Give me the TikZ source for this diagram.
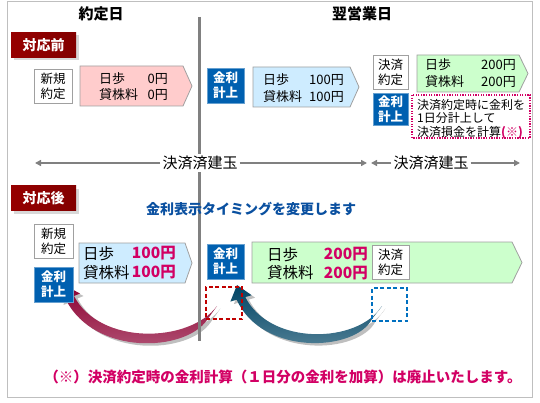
\documentclass[tikz,border=0pt]{standalone}
\usepackage{fontspec}
\setmainfont{Noto Sans CJK JP}
\usetikzlibrary{arrows.meta,shadows}
\definecolor{kinri}{RGB}{0,96,176}
\definecolor{mag}{RGB}{210,0,100}
\definecolor{pinkf}{RGB}{255,204,204}
\definecolor{bluef}{RGB}{206,236,255}
\definecolor{greenf}{RGB}{204,255,204}
\definecolor{edge}{RGB}{160,160,160}
\definecolor{titleblue}{RGB}{10,80,160}
\definecolor{dred}{RGB}{192,0,0}
\definecolor{dblue}{RGB}{0,112,192}
\definecolor{arrred}{RGB}{140,0,50}
\definecolor{arrblue}{RGB}{0,68,100}
\definecolor{lgray}{RGB}{128,128,128}
\begin{document}
\begin{tikzpicture}[x=1pt,y=-1pt,
  sbox/.style={draw=edge, fill=white, line width=0.8pt, minimum width=#1, minimum height=34pt, inner sep=0pt, align=center, font=\fontsize{12.5}{15}\selectfont},
  kbox/.style={fill=kinri, draw=kinri!60, line width=0.6pt, text=white, minimum width=37pt, minimum height=#1, inner sep=0pt, align=center, font=\bfseries\fontsize{12.5}{15}\selectfont},
  pent/.style={draw=edge, line width=0.8pt},
  lbl/.style={anchor=west, inner sep=0pt, font=\fontsize{13}{15}\selectfont},
  val/.style={anchor=east, inner sep=0pt, font=\fontsize{13}{15}\selectfont},
  lblb/.style={anchor=west, inner sep=0pt, font=\fontsize{15.5}{18}\selectfont},
  valb/.style={anchor=east, inner sep=0pt, text=mag, font=\bfseries\fontsize{15.5}{18}\selectfont},
  tag/.style={minimum width=65pt, minimum height=25pt, inner sep=0pt, text=white,
    font=\bfseries\fontsize{14}{16}\selectfont,
    left color={rgb,255:red,150;green,0;blue,0}, middle color={rgb,255:red,200;green,0;blue,0}, right color={rgb,255:red,130;green,0;blue,0},
    drop shadow={shadow xshift=3pt, shadow yshift=-3pt, fill=gray!60}},
  hline/.style={draw=lgray, line width=1.5pt, -{Triangle[length=6pt,width=6pt]}},
  kess/.style={fill=white, inner sep=2pt, font=\fontsize{15}{18}\selectfont},
  redarr/.style={insert path={(207,320) .. controls (185,352) and (95,356) .. (66,300) -- (60,302.5) -- (64,285) -- (80,293.5) -- (74,296) .. controls (100,346) and (190,343) .. (217,306) -- cycle}},
  bluearr/.style={insert path={(372,319) .. controls (355,352) and (262,356) .. (236.7,299.7) -- (230.4,301.6) -- (237,285) -- (251.6,295.2) -- (245.3,297.1) .. controls (270,346) and (358,344) .. (382,306) -- cycle}}
]
\useasboundingbox (0,0) rectangle (540,403);
\draw[gray!50, line width=1pt] (7,1.5) rectangle (532,397);
% titles
\node[font=\bfseries\fontsize{15}{18}\selectfont] (t1) at (101,14) {約定日};
\node[font=\bfseries\fontsize{15}{18}\selectfont] (t2) at (362,14) {翌営業日};
% curved arrows (under the divider)
\fill[gray!50, shift={(3.5,2.5)}, redarr];
\shade[top color=arrred, bottom color=arrred!65!white, redarr];
\fill[gray!50, shift={(3.5,2.5)}, bluearr];
\shade[top color=arrblue, bottom color=arrblue!65!white, bluearr];
% vertical divider
\coordinate (vtop) at (199,17);
\coordinate (vbot) at (199,341);
\draw[lgray, line width=3pt] (vtop) -- (vbot);
% before
\node[tag] (mae) at (43.5,45) {対応前};
\node[sbox=38pt] (shinki1) at (53,86.5) {新規\\約定};
\draw[pent, fill=pinkf] (80,66) -- (183,66) -- (192,86) -- (183,106) -- (80,106) -- cycle;
\node[lbl] (p1) at (99,79) {日歩};
\node[lbl] (p2) at (99,95) {貸株料};
\node[val] (p3) at (168,79) {0円};
\node[val] (p4) at (168,95) {0円};
\node[kbox=35pt] (kin1) at (225.5,85.5) {金利\\計上};
\draw[pent, fill=bluef] (253,67) -- (350,67) -- (359,87) -- (350,107) -- (253,107) -- cycle;
\node[lbl] (b1) at (263,80) {日歩};
\node[lbl] (b2) at (263,97) {貸株料};
\node[val] (b3) at (344,80) {100円};
\node[val] (b4) at (344,97) {100円};
\node[sbox=35pt] (kessai1) at (390.5,72) {決済\\約定};
\draw[pent, fill=greenf] (417,55) -- (519,55) -- (528,73.5) -- (519,92) -- (417,92) -- cycle;
\node[lbl] (g1) at (425,65) {日歩};
\node[lbl] (g2) at (425,82) {貸株料};
\node[val] (g3) at (516,65) {200円};
\node[val] (g4) at (516,82) {200円};
\node[kbox=32pt, minimum width=35pt] (kin2) at (390.5,109) {金利\\計上};
\draw[mag, line width=1.3pt, dash pattern=on 1.3pt off 1.3pt] (412,95) rectangle (530,138);
\node[anchor=north west, inner sep=0pt, align=left, font=\fontsize{12}{13.5}\selectfont] (note) at (417,99)
  {決済約定時に金利を\\1日分計上して\\決済損金を計算{\bfseries\color{mag}(※)}};
% settled positions
\node[kess] (k1) at (200,163) {決済済建玉};
\node[kess] (k2) at (431,163) {決済済建玉};
\coordinate (l1) at (35,163);
\coordinate (r1) at (367,163);
\coordinate (l2) at (371,163);
\coordinate (r2) at (520,163);
\draw[hline] (k1) -- (l1);
\draw[hline] (k1) -- (r1);
\draw[hline] (k2) -- (l2);
\draw[hline] (k2) -- (r2);
% after
\node[tag] (ato) at (43.5,198.5) {対応後};
\node[font=\bfseries\fontsize{14}{16}\selectfont, text=titleblue] (msg) at (251,209) {金利表示タイミングを変更します};
\node[sbox=39pt] (shinki2) at (53.5,241) {新規\\約定};
\node[kbox=35pt, minimum width=39pt] (kin3) at (53.5,284.5) {金利\\計上};
\draw[pent, fill=bluef] (79,243) -- (185,243) -- (192,263) -- (185,283) -- (79,283) -- cycle;
\node[lblb] (c1) at (83,253.5) {日歩};
\node[lblb] (c2) at (83,272.5) {貸株料};
\node[valb] (c3) at (176,253.5) {100円};
\node[valb] (c4) at (176,272.5) {100円};
\node[kbox=35pt] (kin4) at (225.5,261.5) {金利\\計上};
\draw[pent, fill=greenf] (252,242) -- (512,242) -- (522,262.5) -- (512,283) -- (252,283) -- cycle;
\node[lblb] (d1) at (267,254.5) {日歩};
\node[lblb] (d2) at (267,273) {貸株料};
\node[valb] (d3) at (368,254.5) {200円};
\node[valb] (d4) at (368,273) {200円};
\node[sbox=37pt] (kessai2) at (390.5,262) {決済\\約定};
% dashed placeholders
\node[draw=dred, line width=1.4pt, dash pattern=on 4pt off 2.5pt, minimum width=36pt, minimum height=32pt, inner sep=0pt] (oldk) at (224,303) {};
\node[draw=dblue, line width=1.4pt, dash pattern=on 4pt off 2.5pt, minimum width=35pt, minimum height=33pt, inner sep=0pt] (oldb) at (389.5,304.5) {};
% footnote
\node[text=mag, font=\bfseries\fontsize{14.5}{17}\selectfont] (foot) at (283,377) {（※）決済約定時の金利計算（１日分の金利を加算）は廃止いたします。};
\end{tikzpicture}
\end{document}
